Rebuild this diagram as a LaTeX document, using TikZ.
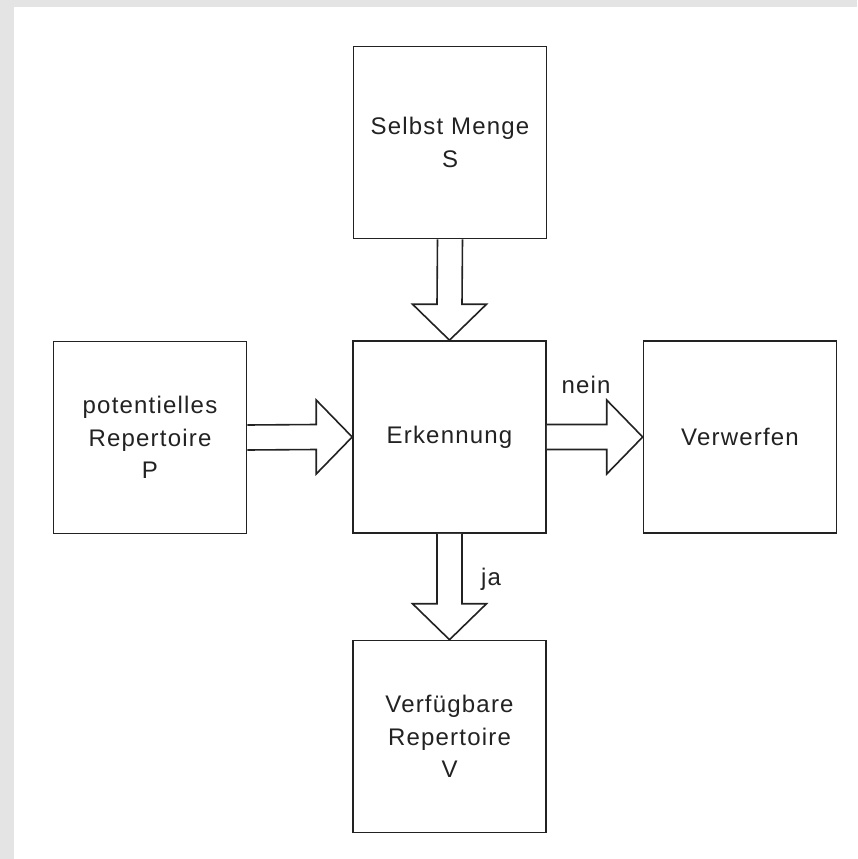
\documentclass[tikz,border=0pt]{standalone}
\usepackage{fontspec}
\setmainfont{Liberation Sans}[LetterSpace=5]
\usetikzlibrary{calc}
\definecolor{framegray}{HTML}{E4E4E4}
\definecolor{ink}{HTML}{222222}
\begin{document}
\begin{tikzpicture}[x=1pt,y=-1pt,
  box/.style={draw=ink,line width=1.6pt,fill=white,minimum width=193pt,minimum height=192pt,
    align=center,inner sep=0pt,font=\fontsize{24}{32.5}\selectfont,text=ink},
  blockarrow/.style={draw=ink,line width=1.6pt,line join=miter,fill=white},
  lbl/.style={font=\fontsize{24}{28}\selectfont,text=ink,inner sep=0pt}]
\fill[framegray] (0,0) rectangle (857,859);
\fill[white] (14,7) rectangle (857,859);
\useasboundingbox (0,0) rectangle (857,859);

\node[box] (S) at (450,142.5) {Selbst Menge\\S};
\node[box] (E) at (449.5,437) {Erkennung};
\node[box] (P) at (150,437.5) {potentielles\\Repertoire\\P};
\node[box] (W) at (740,437) {Verwerfen};
\node[box] (V) at (449.5,736.5) {Verfügbare\\Repertoire\\V};

% S -> E (down)
\draw[blockarrow] ($(S.south)+(-12.5,0)$) -- ($(E.north)+(-12.5,-36)$) -- ($(E.north)+(-37,-36)$)
  -- (E.north) -- ($(E.north)+(37,-36)$) -- ($(E.north)+(12.5,-36)$) -- ($(S.south)+(12.5,0)$);
% P -> E (right)
\draw[blockarrow] ($(P.east)+(0,-12.5)$) -- ($(E.west)+(-36,-12.5)$) -- ($(E.west)+(-36,-37)$)
  -- (E.west) -- ($(E.west)+(-36,37)$) -- ($(E.west)+(-36,12.5)$) -- ($(P.east)+(0,12.5)$);
% E -> W (right, nein)
\draw[blockarrow] ($(E.east)+(0,-12.5)$) -- ($(W.west)+(-36,-12.5)$) -- ($(W.west)+(-36,-37)$)
  -- (W.west) -- ($(W.west)+(-36,37)$) -- ($(W.west)+(-36,12.5)$) -- ($(E.east)+(0,12.5)$);
% E -> V (down, ja)
\draw[blockarrow] ($(E.south)+(-12.5,0)$) -- ($(V.north)+(-12.5,-36)$) -- ($(V.north)+(-37,-36)$)
  -- (V.north) -- ($(V.north)+(37,-36)$) -- ($(V.north)+(12.5,-36)$) -- ($(E.south)+(12.5,0)$);

\node[lbl,anchor=base] (nein) at (586,393) {nein};
\node[lbl,anchor=base west] (ja) at (481,585) {ja};
\end{tikzpicture}
\end{document}
